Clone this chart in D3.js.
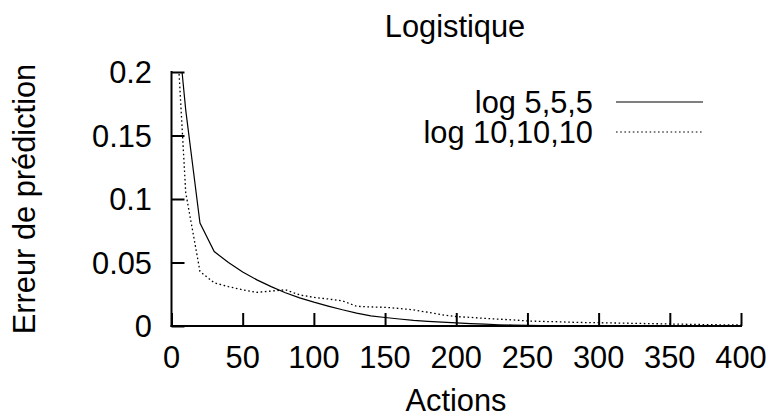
<!DOCTYPE html>
<html>
<head>
<meta charset="utf-8">
<script src="https://cdn.jsdelivr.net/npm/d3@7"></script>
<style>
  html, body { margin: 0; padding: 0; background: #fff; }
  svg { display: block; }
  text { font-family: "Liberation Sans", Arial, Helvetica, sans-serif; fill: #000; }
</style>
</head>
<body>
<svg id="chart" width="772" height="419"></svg>
<script>
// ---- data ----
const xTicks = [0, 50, 100, 150, 200, 250, 300, 350, 400];
const yTicks = [0, 0.05, 0.1, 0.15, 0.2];
const yTickLabels = ["0", "0.05", "0.1", "0.15", "0.2"];
const actions = [5, 10, 20, 30, 40, 50, 60, 70, 80, 90, 100, 110, 120, 130, 140, 150, 160, 170, 180, 190, 200,
  210, 220, 230, 240, 250, 260, 270, 280, 290, 300, 310, 320, 330, 340, 350, 360, 370, 380, 390, 400];
const log555 = [0.228, 0.17, 0.081, 0.0586, 0.0500, 0.0425, 0.0363, 0.0310, 0.0262, 0.0222, 0.0188, 0.0157, 0.0128,
  0.0102, 0.0080, 0.0067, 0.0055, 0.0044, 0.0036, 0.0030, 0.0025,
  0.0019, 0.0014, 0.0010, 0.0007, 0.0005, 0.0004, 0.0003, 0.0003, 0.0002, 0.0002, 0.0002, 0.0001, 0.0001, 0.0001,
  0.0001, 0.0001, 0.0001, 0.0001, 0.0001, 0.0001];
const log101010 = [0.205, 0.105, 0.043, 0.034, 0.031, 0.0285, 0.0265, 0.0275, 0.0285, 0.0245, 0.0225, 0.0213, 0.0198,
  0.0155, 0.0150, 0.0147, 0.0138, 0.0127, 0.0108, 0.0088, 0.0074,
  0.0068, 0.0060, 0.0054, 0.0048, 0.0040, 0.0036, 0.0034, 0.0030, 0.0027, 0.0026, 0.0024, 0.0022, 0.0020, 0.0018,
  0.0016, 0.0014, 0.0012, 0.0010, 0.0009, 0.0008];
const seriesNames = ["log 5,5,5", "log 10,10,10"];
const title = "Logistique";
const xLabel = "Actions";
const yLabel = "Erreur de prédiction";

// ---- layout ----
const svg = d3.select("#chart");
const pL = 171.5, pR = 741, pT = 72, pB = 326;
const x = d3.scaleLinear().domain([0, 400]).range([pL, pR]);
const y = d3.scaleLinear().domain([0, 0.2]).range([pB, pT]);
const fs = 30.8;
const bOff = 11;
const tickLen = 13;

svg.append("defs").append("clipPath").attr("id", "plotclip")
  .append("rect").attr("x", pL).attr("y", pT).attr("width", pR - pL).attr("height", pB - pT);

// axes via d3 axis generators (inward ticks)
const xAxis = d3.axisBottom(x).tickValues(xTicks).tickSizeInner(-tickLen).tickSizeOuter(0).tickPadding(0);
const gx = svg.append("g").attr("transform", `translate(0,${pB})`).call(xAxis);
gx.select(".domain").remove();
gx.selectAll(".tick line").attr("stroke", "#000").attr("stroke-width", 2);
gx.selectAll(".tick text").remove();

const yAxis = d3.axisLeft(y).tickValues(yTicks).tickSizeInner(-tickLen).tickSizeOuter(0).tickPadding(0);
const gy = svg.append("g").attr("transform", `translate(${pL},0)`).call(yAxis);
gy.select(".domain").remove();
gy.selectAll(".tick line").attr("stroke", "#000").attr("stroke-width", 2);
gy.selectAll(".tick text").remove();

// axis lines
svg.append("line").attr("x1", pL).attr("x2", pL).attr("y1", pT - 1).attr("y2", pB + 1)
  .attr("stroke", "#000").attr("stroke-width", 2);
svg.append("line").attr("x1", pL - 1).attr("x2", pR + 1).attr("y1", pB).attr("y2", pB)
  .attr("stroke", "#000").attr("stroke-width", 2);

// tick labels
svg.append("g").selectAll("text").data(yTicks).join("text")
  .attr("x", 152).attr("y", d => y(d) + bOff)
  .attr("text-anchor", "end").attr("font-size", fs)
  .text((d, i) => yTickLabels[i]);
svg.append("g").selectAll("text").data(xTicks).join("text")
  .attr("x", d => x(d)).attr("y", 368)
  .attr("text-anchor", "middle").attr("font-size", fs)
  .text(d => d);

// titles
svg.append("text").attr("x", 455).attr("y", 37).attr("text-anchor", "middle").attr("font-size", fs).text(title);
svg.append("text").attr("x", 456).attr("y", 411).attr("text-anchor", "middle").attr("font-size", fs).text(xLabel);
svg.append("text").attr("transform", "translate(35,199) rotate(-90)").attr("text-anchor", "middle").attr("font-size", fs).text(yLabel);

// lines
const line = d3.line().x(d => x(d[0])).y(d => y(d[1]));
const plot = svg.append("g").attr("clip-path", "url(#plotclip)");
plot.append("path").datum(actions.map((a, i) => [a, log555[i]]))
  .attr("d", line).attr("fill", "none").attr("stroke", "#000").attr("stroke-width", 1.2);
plot.append("path").datum(actions.map((a, i) => [a, log101010[i]]))
  .attr("d", line).attr("fill", "none").attr("stroke", "#000").attr("stroke-width", 1.3)
  .attr("stroke-dasharray", "1.6,2.6");

// legend
const legY = [102, 132];
const styles = [null, "1.6,2.6"];
seriesNames.forEach((n, i) => {
  svg.append("text").attr("x", 593).attr("y", legY[i] + bOff).attr("text-anchor", "end").attr("font-size", fs).text(n);
  const l = svg.append("line").attr("x1", 616).attr("x2", 703).attr("y1", legY[i]).attr("y2", legY[i])
    .attr("stroke", "#000").attr("stroke-width", 1.2);
  if (styles[i]) l.attr("stroke-dasharray", styles[i]);
});
</script>
</body>
</html>
